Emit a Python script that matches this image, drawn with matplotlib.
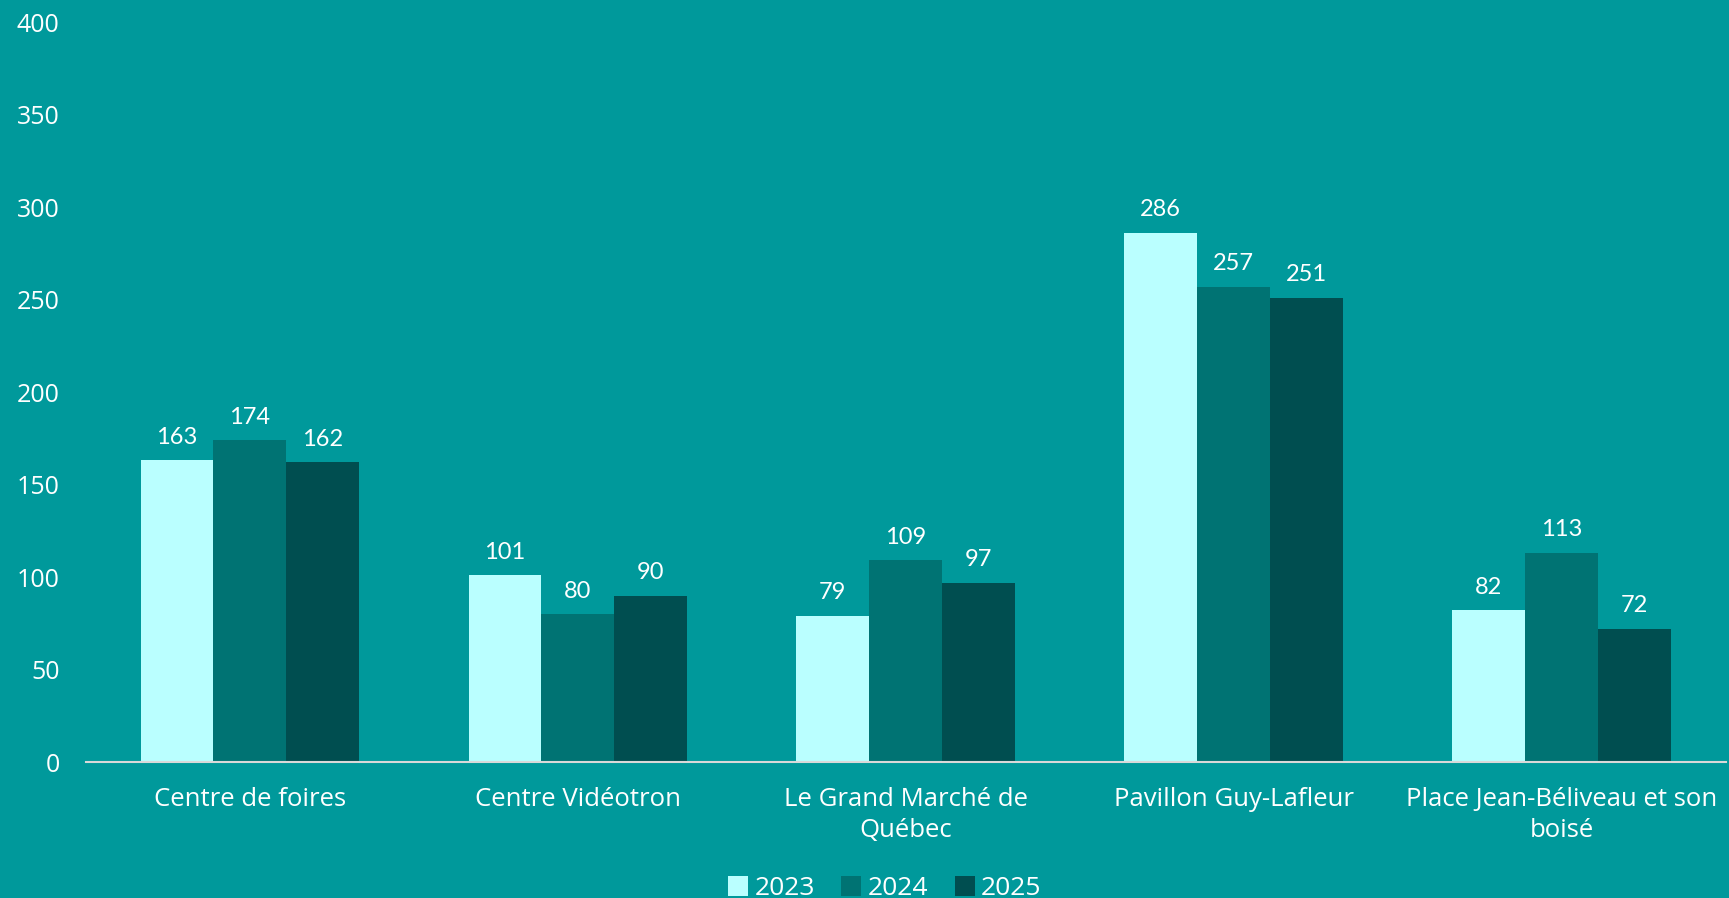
import numpy as np
import matplotlib
matplotlib.use("Agg")
import matplotlib.pyplot as plt

categories = ["Centre de foires", "Centre Vidéotron", "Le Grand Marché de\nQuébec",
              "Pavillon Guy-Lafleur", "Place Jean-Béliveau et son\nboisé"]
years = ["2023", "2024", "2025"]
values_2023 = [163, 101, 79, 286, 82]
values_2024 = [174, 80, 109, 257, 113]
values_2025 = [162, 90, 97, 251, 72]
yticks = [0, 50, 100, 150, 200, 250, 300, 350, 400]

bg = "#00999B"
colors = ["#BAFFFF", "#007373", "#004E50"]
series = [values_2023, values_2024, values_2025]

plt.rcParams["font.family"] = ["Open Sans", "DejaVu Sans"]

fig = plt.figure(figsize=(17.29, 8.98), dpi=100, facecolor=bg)
ax = fig.add_axes([0.0497, 0.1514, 0.9483, 0.8241])
ax.set_facecolor(bg)

x = np.arange(len(categories))
w = 0.2222
for i, (vals, col, yr) in enumerate(zip(series, colors, years)):
    bars = ax.bar(x + (i - 1) * w, vals, width=w, color=col, label=yr, zorder=2)
    ax.bar_label(bars, labels=[str(v) for v in vals], padding=9,
                 color="white", fontsize=17, family=["Lato", "DejaVu Sans"])

ax.set_xlim(-0.5, 4.5)
ax.set_ylim(0, 400)
ax.set_yticks(yticks)
ax.set_xticks(x)
ax.set_xticklabels(categories, linespacing=1.32, fontsize=18.5)
ax.tick_params(axis="y", length=0, pad=19, labelsize=18, labelcolor="white")
ax.tick_params(axis="x", length=0, pad=18, labelcolor="white")
for s in ["top", "right", "left"]:
    ax.spines[s].set_visible(False)
ax.spines["bottom"].set_color("#D9D9D9")
ax.spines["bottom"].set_linewidth(1.5)
ax.spines["bottom"].set_zorder(3)

fig.legend(loc="lower center", bbox_to_anchor=(885 / 1729, -0.03), ncol=3,
           frameon=False, fontsize=19, labelcolor="white",
           handlelength=0.75, handleheight=0.75, handletextpad=0.25,
           columnspacing=1.0)

fig.savefig("out.png", dpi=100, facecolor=bg)
